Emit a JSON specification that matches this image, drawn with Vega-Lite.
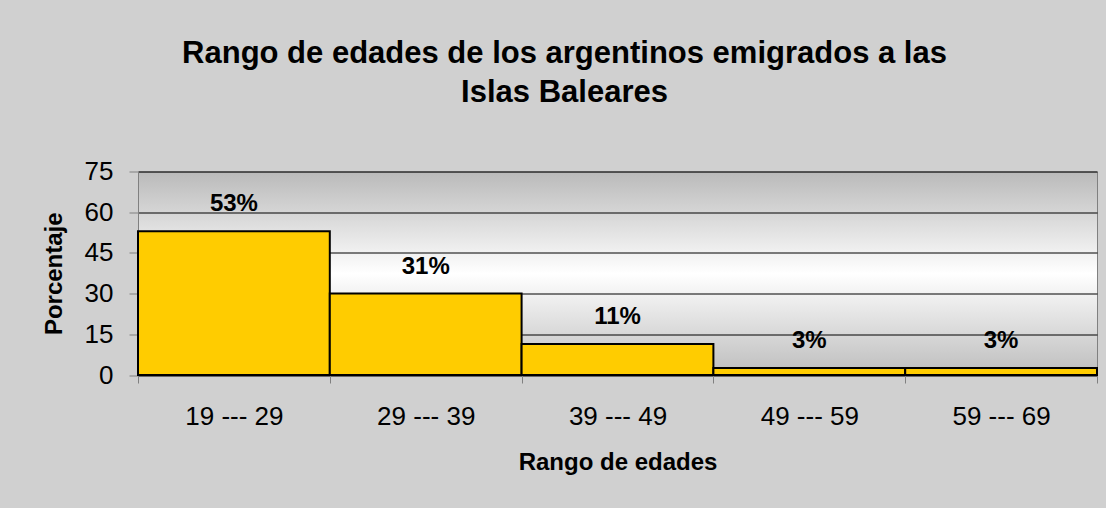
{
  "$schema": "https://vega.github.io/schema/vega-lite/v6.json",
  "width": 959,
  "height": 203.5,
  "autosize": "none",
  "padding": {"left": 138, "top": 171.5, "right": 9, "bottom": 133},
  "background": "#d0d0d0",
  "title": {
    "text": ["Rango de edades de los argentinos emigrados a las", "Islas Baleares"],
    "font": "Liberation Sans",
    "fontSize": 31,
    "fontWeight": "bold",
    "color": "#000000",
    "lineHeight": 39,
    "anchor": "middle",
    "frame": "group",
    "dx": -53,
    "offset": 50
  },
  "config": {
    "font": "Liberation Sans",
    "view": {
      "stroke": "#808080",
      "strokeWidth": 1,
      "fill": {
        "gradient": "linear",
        "x1": 0, "y1": 0, "x2": 0, "y2": 1,
        "stops": [
          {"offset": 0, "color": "#bababa"},
          {"offset": 0.5, "color": "#ffffff"},
          {"offset": 1, "color": "#bdbdbd"}
        ]
      }
    }
  },
  "data": {
    "values": [
      {"rango": "19 --- 29", "valor": 53, "etiqueta": "53%"},
      {"rango": "29 --- 39", "valor": 30, "etiqueta": "31%"},
      {"rango": "39 --- 49", "valor": 11.4, "etiqueta": "11%"},
      {"rango": "49 --- 59", "valor": 2.6, "etiqueta": "3%"},
      {"rango": "59 --- 69", "valor": 2.6, "etiqueta": "3%"}
    ]
  },
  "encoding": {
    "x": {
      "field": "rango",
      "type": "nominal",
      "sort": null,
      "scale": {"paddingInner": 0, "paddingOuter": 0},
      "axis": {
        "title": "Rango de edades",
        "titleFont": "Liberation Sans",
        "titleFontSize": 24,
        "titleFontWeight": "bold",
        "titleColor": "#000000",
        "titlePadding": 21,
        "labelAngle": 0,
        "labelFont": "Liberation Sans",
        "labelFontSize": 26,
        "labelColor": "#000000",
        "labelPadding": 20,
        "tickBand": "extent",
        "tickSize": 8,
        "tickColor": "#808080",
        "domainColor": "#000000",
        "grid": false
      }
    }
  },
  "layer": [
    {
      "mark": {"type": "bar", "fill": "#ffcc00", "stroke": "#000000", "strokeWidth": 2},
      "encoding": {
        "y": {
          "field": "valor",
          "type": "quantitative",
          "scale": {"domain": [0, 75], "nice": false},
          "axis": {
            "title": "Porcentaje",
            "titleFont": "Liberation Sans",
            "titleFontSize": 24,
            "titleFontWeight": "bold",
            "titleColor": "#000000",
            "titlePadding": 18,
            "values": [0, 15, 30, 45, 60, 75],
            "labelFont": "Liberation Sans",
            "labelFontSize": 26,
            "labelColor": "#000000",
            "labelPadding": 16,
            "tickSize": 9,
            "tickColor": "#808080",
            "domainColor": "#808080",
            "grid": true,
            "gridColor": "#000000",
            "gridOpacity": 1,
            "gridWidth": 1
          }
        }
      }
    },
    {
      "mark": {"type": "text", "font": "Liberation Sans", "fontSize": 24, "fontWeight": "bold", "color": "#000000", "baseline": "alphabetic", "dy": -20},
      "encoding": {
        "y": {"field": "valor", "type": "quantitative"},
        "text": {"field": "etiqueta"}
      }
    }
  ]
}
